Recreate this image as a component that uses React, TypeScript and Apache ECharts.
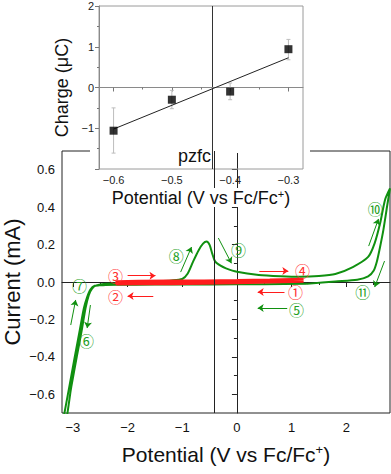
import { useEffect, useRef } from 'react';
import * as echarts from 'echarts';

// ---------- main cyclic voltammogram ----------
const greenPotential = [
  1.28, 0.5, -0.5, -1.5, -2.2, -2.4, -2.52, -2.6, -2.68, -2.74, -2.8, -2.87, -2.96, -3.06, -3.2,
  -3.16, -3.03, -2.93, -2.84, -2.77, -2.71, -2.65, -2.57, -2.4, -2.0, -1.5, -1.2, -1.0, -0.9,
  -0.8, -0.7, -0.62, -0.555, -0.5, -0.45, -0.4, -0.3, -0.2, 0, 0.4, 0.8, 1.15, 1.5, 1.8, 2.12,
  2.4, 2.52, 2.62, 2.71, 2.8,
  2.75, 2.68, 2.62, 2.56, 2.5, 2.4, 2.2, 1.8, 1.28,
];
const greenCurrent = [
  -0.01, -0.012, -0.013, -0.014, -0.015, -0.016, -0.018, -0.02, -0.04, -0.08, -0.14, -0.25, -0.39, -0.55, -0.77,
  -0.77, -0.56, -0.4, -0.26, -0.14, -0.07, -0.035, -0.018, -0.01, -0.005, 0.003, 0.008, 0.016, 0.045,
  0.11, 0.17, 0.205, 0.216, 0.198, 0.15, 0.11, 0.087, 0.073, 0.055, 0.038, 0.031, 0.028, 0.032, 0.043, 0.08,
  0.134, 0.208, 0.315, 0.44, 0.5,
  0.41, 0.28, 0.19, 0.11, 0.06, 0.03, 0.012, 0.003, -0.01,
];
const redPotential = [1.22, 0.6, 0, -0.6, -1.2, -1.8, -2.2, -2.2, -1.8, -1.2, -0.6, 0, 0.6, 1.22];
const redCurrent = [0.004, 0.0, -0.004, -0.007, -0.009, -0.01, -0.011, 0.002, 0.004, 0.005, 0.006, 0.008, 0.011, 0.015];

const mainXTicks = [-3, -2, -1, 0, 1, 2];
const mainXMinor = [-2.5, -1.5, -0.5, 0.5, 1.5, 2.5];
const mainYTicks = [-0.6, -0.4, -0.2, 0, 0.2, 0.4, 0.6];
const mainYMinor = [-0.5, -0.3, -0.1, 0.1, 0.3, 0.5];
const pzfcMain = -0.42;

// step annotations: [label, x, y]
const stepLabels: [string, number, number, string][] = [
  ['①', 1.07, -0.05, 'red'],
  ['②', -2.22, -0.075, 'red'],
  ['③', -2.22, 0.037, 'red'],
  ['④', 1.2, 0.059, 'red'],
  ['⑤', 1.09, -0.145, 'green'],
  ['⑥', -2.75, -0.315, 'green'],
  ['⑦', -2.88, -0.021, 'green'],
  ['⑧', -1.11, 0.144, 'green'],
  ['⑨', 0.03, 0.176, 'green'],
  ['⑩', 2.53, 0.395, 'green'],
  ['⑪', 2.3, -0.053, 'green'],
];
// arrows: [x1, y1, x2, y2, colour]
const stepArrows: [number, number, number, number, string][] = [
  [0.87, -0.053, 0.38, -0.053, 'red'],
  [-1.53, -0.075, -2.0, -0.075, 'red'],
  [-2.0, 0.034, -1.49, 0.034, 'red'],
  [0.41, 0.059, 0.94, 0.059, 'red'],
  [0.92, -0.139, 0.38, -0.139, 'green'],
  [-2.68, -0.123, -2.74, -0.246, 'green'],
  [-3.04, -0.23, -2.95, -0.096, 'green'],
  [-1.03, 0.053, -0.83, 0.187, 'green'],
  [-0.34, 0.235, -0.1, 0.1, 'green'],
  [2.41, 0.192, 2.59, 0.337, 'green'],
  [2.7, 0.112, 2.52, -0.027, 'green'],
];

// ---------- inset: charge vs potential ----------
const insetPotential = [-0.6, -0.5, -0.4, -0.3];
const insetCharge = [-1.06, -0.3, -0.1, 0.94];
const insetErrLow = [-1.61, -0.52, -0.3, 0.68];
const insetErrHigh = [-0.5, -0.07, 0.11, 1.18];
const fitPotential = [-0.6, -0.3];
const fitCharge = [-1.02, 0.73];
const insetXTicks = [-0.6, -0.5, -0.4, -0.3];
const insetXMinor = [-0.55, -0.45, -0.35];
const insetYTicks = [-1, 0, 1, 2];
const insetYTickMarks = [-2, -1, 0, 1, 2];
const insetYMinor = [-1.5, -0.5, 0.5, 1.5];
const pzfcInset = -0.428;

const FONT = '"Liberation Sans", Arial, Helvetica, sans-serif';
const CJK = '"Noto Sans CJK JP", "Noto Sans CJK SC", sans-serif';
const RED = '#ff1c1c';
const GREEN = '#109010';
const RED_TXT = '#ff3030';
const GREEN_TXT = '#23a023';

const fmt = (d: number) => (v: number) =>
  (v < -1e-9 ? '\u2212' : '') + Math.abs(v).toFixed(d);

const supRich = (size: number) => ({
  sup: { fontSize: size, fontFamily: FONT, color: '#111', padding: [0, 0, Math.round(size * 0.7), 0] },
});

export default function App() {
  const ref = useRef<HTMLDivElement>(null);
  useEffect(() => {
    if (!ref.current) return;
    document.body.style.margin = '0';
    const chart = echarts.init(ref.current, undefined, { renderer: 'svg' });

    const greenData = greenPotential.map((x, i) => [x, greenCurrent[i]]);
    const redData = redPotential.map((x, i) => [x, redCurrent[i]]);
    const errData = insetPotential.map((x, i) => [x, insetErrLow[i], insetErrHigh[i]]);
    const scatterData = insetPotential.map((x, i) => [x, insetCharge[i]]);
    const fitData = fitPotential.map((x, i) => [x, fitCharge[i]]);

    const mainAxisCommon = {
      axisLine: { show: true, lineStyle: { color: '#222', width: 1 } },
      splitLine: { show: false },
      z: 0,
    };
    const insetAxisCommon = {
      axisLine: { show: true, lineStyle: { color: '#8a8a8a', width: 1 } },
      splitLine: { show: false },
      z: 5,
    };

    const option: any = {
      animation: false,
      backgroundColor: '#fff',
      textStyle: { fontFamily: FONT },
      grid: [
        { left: 62, top: 151, width: 328, height: 262, show: true, borderColor: '#222', borderWidth: 1, backgroundColor: 'transparent', z: 0, containLabel: false, outerBoundsMode: 'none' },
        { left: 99, top: 6, width: 204, height: 163, show: true, borderColor: '#9a9a9a', borderWidth: 1, backgroundColor: 'transparent', z: 5, containLabel: false, outerBoundsMode: 'none' },
      ],
      xAxis: [
        {
          ...mainAxisCommon, gridIndex: 0, type: 'value', min: -3.2, max: 2.8,
          axisTick: { show: true, customValues: mainXTicks, length: 5, lineStyle: { color: '#222' } },
          axisLabel: { customValues: mainXTicks, formatter: fmt(0), fontSize: 13, color: '#111', margin: 8, fontFamily: FONT },
          name: 'Potential (V vs Fc/Fc{sup|+})', nameLocation: 'middle', nameGap: 30,
          nameTextStyle: { fontSize: 21, color: '#111', fontFamily: FONT, rich: supRich(13) },
        },
        {
          gridIndex: 0, type: 'value', min: -3.2, max: 2.8, position: 'bottom',
          axisLine: { show: false }, axisLabel: { show: false }, splitLine: { show: false },
          axisTick: { show: true, customValues: mainXMinor, length: 3, lineStyle: { color: '#222' } }, z: 0,
        },
        {
          ...insetAxisCommon, gridIndex: 1, type: 'value', min: -0.625, max: -0.275,
          axisTick: { show: true, customValues: insetXTicks, length: 4, lineStyle: { color: '#777' } },
          axisLabel: { customValues: insetXTicks, formatter: fmt(1), fontSize: 11, color: '#222', margin: 5, fontFamily: FONT },
          name: 'Potential (V vs Fc/Fc{sup|+})', nameLocation: 'middle', nameGap: 19,
          nameTextStyle: { fontSize: 18, color: '#111', fontFamily: FONT, backgroundColor: '#fff', padding: [0, 2, 0, 2], rich: supRich(11) },
        },
        {
          gridIndex: 1, type: 'value', min: -0.625, max: -0.275, position: 'bottom',
          axisLine: { show: false }, axisLabel: { show: false }, splitLine: { show: false },
          axisTick: { show: true, customValues: insetXMinor, length: 2, lineStyle: { color: '#777' } }, z: 5,
        },
      ],
      yAxis: [
        {
          ...mainAxisCommon, gridIndex: 0, type: 'value', min: -0.7, max: 0.7,
          axisTick: { show: true, customValues: mainYTicks, length: 5, lineStyle: { color: '#222' } },
          axisLabel: { customValues: mainYTicks, formatter: fmt(1), fontSize: 13, color: '#111', margin: 7, fontFamily: FONT },
          name: 'Current (mA)', nameLocation: 'middle', nameGap: 39, nameMoveOverlap: false,
          nameTextStyle: { fontSize: 22, lineHeight: 22, color: '#111', fontFamily: FONT },
        },
        {
          gridIndex: 0, type: 'value', min: -0.7, max: 0.7, position: 'left',
          axisLine: { show: false }, axisLabel: { show: false }, splitLine: { show: false },
          axisTick: { show: true, customValues: mainYMinor, length: 3, lineStyle: { color: '#222' } }, z: 0,
        },
        {
          ...insetAxisCommon, gridIndex: 1, type: 'value', min: -2, max: 2,
          axisTick: { show: true, customValues: insetYTickMarks, length: 4, lineStyle: { color: '#777' } },
          axisLabel: { customValues: insetYTicks, formatter: fmt(0), fontSize: 11, color: '#222', margin: 5, fontFamily: FONT },
          name: 'Charge (μC)', nameLocation: 'middle', nameGap: 20,
          nameTextStyle: { fontSize: 18, color: '#111', fontFamily: FONT },
        },
        {
          gridIndex: 1, type: 'value', min: -2, max: 2, position: 'left',
          axisLine: { show: false }, axisLabel: { show: false }, splitLine: { show: false },
          axisTick: { show: true, customValues: insetYMinor, length: 2, lineStyle: { color: '#777' } }, z: 5,
        },
      ],
      graphic: [
        { type: 'rect', shape: { x: 90, y: 0, width: 220, height: 153 }, style: { fill: '#fff' }, z: 1, silent: true },
        {
          type: 'text', z: 10, silent: true,
          style: { text: 'pzfc', x: 211, y: 156, align: 'right', verticalAlign: 'middle', fontSize: 18, fill: '#111', fontFamily: FONT },
        },
      ],
      series: [
        {
          type: 'line', xAxisIndex: 0, yAxisIndex: 0, data: greenData, showSymbol: false, symbol: 'none',
          smooth: 0.25, lineStyle: { color: GREEN, width: 2 }, z: 2, silent: true,
          markLine: {
            silent: true, symbol: ['none', 'arrow'], symbolSize: 6, label: { show: false },
            lineStyle: { type: 'solid', width: 1 },
            data: stepArrows.map(([x1, y1, x2, y2, c]) => [
              { coord: [x1, y1], lineStyle: { color: c === 'red' ? RED : GREEN, type: 'solid', width: 1 } },
              { coord: [x2, y2] },
            ]),
          },
          markPoint: {
            silent: true, symbol: 'rect', symbolSize: 1, itemStyle: { color: 'rgba(0,0,0,0)' },
            data: stepLabels.map(([t, x, y, c]) => ({
              name: t, coord: [x, y],
              label: { show: true, position: 'inside', formatter: t, fontSize: 15, lineHeight: 14, fontFamily: CJK, color: c === 'red' ? RED_TXT : GREEN_TXT },
            })),
          },
        },
        {
          type: 'line', xAxisIndex: 0, yAxisIndex: 0, data: redData, showSymbol: false, symbol: 'none',
          lineStyle: { color: RED, width: 3 }, z: 3, silent: true,
          markLine: {
            silent: true, symbol: 'none', label: { show: false },
            lineStyle: { color: '#222', type: 'solid', width: 1 },
            data: [{ xAxis: pzfcMain }],
          },
        },
        {
          type: 'custom', xAxisIndex: 2, yAxisIndex: 2, data: errData, z: 6, silent: true,
          renderItem: (params: any, api: any) => {
            const x = api.value(0);
            const lo = api.coord([x, api.value(1)]);
            const hi = api.coord([x, api.value(2)]);
            const st = { stroke: '#bdbdbd', lineWidth: 1 };
            return {
              type: 'group',
              children: [
                { type: 'line', shape: { x1: lo[0], y1: lo[1], x2: hi[0], y2: hi[1] }, style: st },
                { type: 'line', shape: { x1: lo[0] - 2, y1: lo[1], x2: lo[0] + 2, y2: lo[1] }, style: st },
                { type: 'line', shape: { x1: hi[0] - 2, y1: hi[1], x2: hi[0] + 2, y2: hi[1] }, style: st },
              ],
            };
          },
        },
        {
          type: 'line', xAxisIndex: 2, yAxisIndex: 2, data: fitData, showSymbol: false, symbol: 'none',
          lineStyle: { color: '#222', width: 1 }, z: 6, silent: true,
          markLine: {
            silent: true, symbol: 'none', label: { show: false },
            data: [
              { yAxis: 0, lineStyle: { color: '#8a8a8a', type: 'solid', width: 1 } },
              { xAxis: pzfcInset, lineStyle: { color: '#333', type: 'solid', width: 1 } },
            ],
          },
        },
        {
          type: 'scatter', xAxisIndex: 2, yAxisIndex: 2, data: scatterData, symbol: 'rect', symbolSize: 8,
          itemStyle: { color: '#000' }, z: 7, silent: true,
        },
      ],
    };
    chart.setOption(option);
    return () => chart.dispose();
  }, []);
  return <div ref={ref} style={{ width: 391, height: 474 }} />;
}
